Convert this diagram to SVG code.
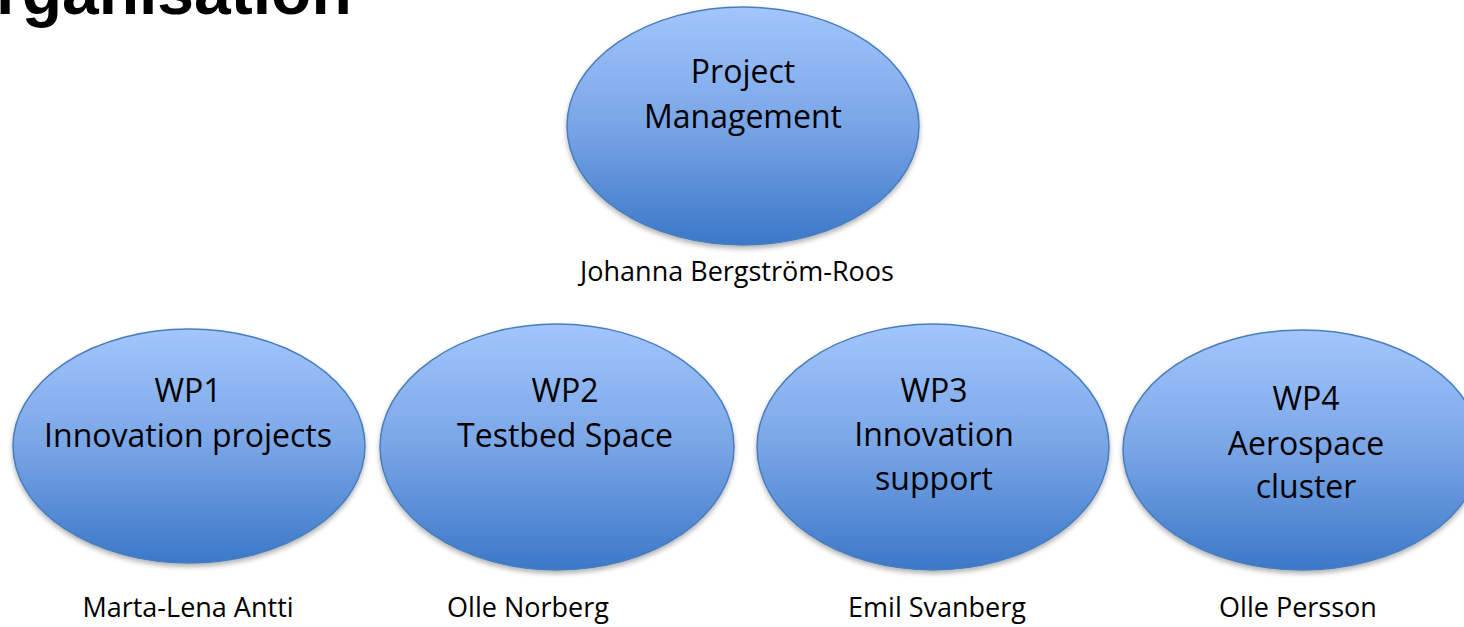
<svg xmlns="http://www.w3.org/2000/svg" width="1464" height="627" viewBox="0 0 1464 627">
<style>
.node ellipse{fill:url(#g);stroke:#4A7EBB;stroke-width:1.5;filter:url(#sh)}
.lbl{font-family:"Open Sans","Noto Sans",sans-serif;font-size:32px;fill:#000;text-anchor:middle}
.nm{font-family:"Open Sans","Noto Sans",sans-serif;font-size:27px;fill:#000;text-anchor:middle}
.title{font-family:"Liberation Sans",Arial,sans-serif;font-weight:bold;font-size:66px;fill:#000}
</style>
<defs>
<linearGradient id="g" x1="0" y1="0" x2="0" y2="1">
<stop offset="0" stop-color="#A2C6FD"/>
<stop offset="0.5" stop-color="#79A5E6"/>
<stop offset="1" stop-color="#3B78C8"/>
</linearGradient>
<filter id="sh" x="-10%" y="-10%" width="120%" height="125%">
<feDropShadow dx="0" dy="3" stdDeviation="2.5" flood-color="#000" flood-opacity="0.3"/>
</filter>
</defs>
<rect width="1464" height="627" fill="#fff"/>
<text class="title" x="-4" y="14">rganisation</text>
<g id="connectors"/>
<g id="pm" class="node">
<ellipse cx="743" cy="126" rx="176" ry="119"/>
<text class="lbl" x="743" y="83">Project</text>
<text class="lbl" x="743" y="128">Management</text>
</g>
<text class="nm" x="737" y="281">Johanna Bergström-Roos</text>
<g id="wp1" class="node">
<ellipse cx="189" cy="446" rx="176" ry="117"/>
<text class="lbl" x="188" y="402">WP1</text>
<text class="lbl" x="188" y="447">Innovation projects</text>
</g>
<text class="nm" x="188" y="617">Marta-Lena Antti</text>
<g id="wp2" class="node">
<ellipse cx="557" cy="447" rx="177" ry="123"/>
<text class="lbl" x="565" y="402">WP2</text>
<text class="lbl" x="565" y="447">Testbed Space</text>
</g>
<text class="nm" x="528" y="617">Olle Norberg</text>
<g id="wp3" class="node">
<ellipse cx="933" cy="447" rx="176" ry="123"/>
<text class="lbl" x="934" y="402">WP3</text>
<text class="lbl" x="934" y="446">Innovation</text>
<text class="lbl" x="934" y="490">support</text>
</g>
<text class="nm" x="937" y="617">Emil Svanberg</text>
<g id="wp4" class="node">
<ellipse cx="1302" cy="450" rx="179" ry="120"/>
<text class="lbl" x="1306" y="410">WP4</text>
<text class="lbl" x="1306" y="455">Aerospace</text>
<text class="lbl" x="1306" y="498">cluster</text>
</g>
<text class="nm" x="1298" y="617">Olle Persson</text>
</svg>
